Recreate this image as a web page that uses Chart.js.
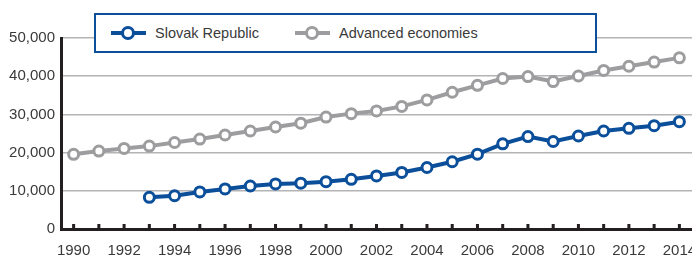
<!DOCTYPE html>
<html>
<head>
<meta charset="utf-8">
<script src="https://cdn.jsdelivr.net/npm/chart.js@4"></script>
<style>
  html, body { margin: 0; padding: 0; background: #fff; }
  #wrap { position: relative; width: 692px; height: 258px; }
  #legend {
    position: absolute; left: 94px; top: 13px; width: 499px; height: 36px;
    border: 2px solid #0b4f9b; background: #fff;
    font-family: "Liberation Sans", Arial, sans-serif;
    font-size: 14.5px; color: #3a3a3a;
  }
  .item { position: absolute; top: 0; height: 36px; line-height: 36px; white-space: nowrap; }
  .swatch { position: absolute; top: 16px; width: 35px; height: 4px; }
  .dot { position: absolute; top: -5px; left: 10px; width: 8px; height: 8px; border-radius: 50%; border: 3px solid; background: #fff; }
  .label { position: absolute; left: 44px; top: 0; }
</style>
</head>
<body>
<div id="wrap">
  <canvas id="chart" width="692" height="258"></canvas>
  <div id="legend"></div>
</div>
<script>
const years = [];
for (let y = 1990; y <= 2014; y++) years.push(String(y));

const seriesNames = ['Slovak Republic', 'Advanced economies'];
const seriesColors = ['#0b4f9b', '#9d9d9f'];

const slovak = [null, null, null, 8300, 8700, 9700, 10500, 11250, 11800, 12000,
  12400, 13000, 13900, 14800, 16100, 17600, 19600, 22300, 24200, 22900,
  24350, 25650, 26350, 27050, 28100];
const advanced = [19550, 20400, 21100, 21700, 22650, 23550, 24600, 25650, 26700, 27700,
  29300, 30200, 30900, 32100, 33800, 35800, 37600, 39400, 39900, 38600,
  40050, 41500, 42600, 43700, 44800];

const yTicks = [0, 10000, 20000, 30000, 40000, 50000];

const fontFamily = '"Liberation Sans", Arial, sans-serif';

// petits traits vers le haut sur l'axe des x
const innerTicks = {
  id: 'innerTicks',
  afterDraw(chart) {
    const x = chart.scales.x;
    const ctx = chart.ctx;
    const bottom = chart.chartArea.bottom;
    ctx.save();
    ctx.strokeStyle = '#231f20';
    ctx.lineWidth = 3;
    ctx.beginPath();
    for (let i = 0; i < years.length; i++) {
      const px = x.getPixelForTick(i);
      ctx.moveTo(px, bottom - 5);
      ctx.lineTo(px, bottom);
    }
    ctx.stroke();
    ctx.restore();
  }
};

function makeDataset(i, data) {
  return {
    label: seriesNames[i],
    data: data,
    borderColor: seriesColors[i],
    backgroundColor: '#fff',
    borderWidth: 4,
    pointRadius: 5,
    pointBorderWidth: 3,
    pointBackgroundColor: '#fff',
    pointBorderColor: seriesColors[i],
    tension: 0,
    spanGaps: false,
    clip: false
  };
}

new Chart(document.getElementById('chart'), {
  type: 'line',
  data: {
    labels: years,
    datasets: [makeDataset(0, slovak), makeDataset(1, advanced)]
  },
  options: {
    responsive: false,
    animation: false,
    layout: { autoPadding: false, padding: { top: 38, right: 0, left: 0, bottom: 0 } },
    plugins: { legend: { display: false }, tooltip: { enabled: false } },
    scales: {
      x: {
        offset: true,
        grid: { display: true, drawOnChartArea: false, drawTicks: false },
        border: { display: true, color: '#231f20', width: 3 },
        ticks: {
          autoSkip: false,
          maxRotation: 0,
          padding: 13,
          color: '#3a3a3a',
          font: { family: fontFamily, size: 15 },
          callback: function(v, i) { return i % 2 === 0 ? years[i] : ''; }
        },
        afterFit: function(s) { s.height = 29; s.paddingRight = 0; s.paddingLeft = 0; }
      },
      y: {
        min: yTicks[0],
        max: yTicks[yTicks.length - 1],
        afterBuildTicks: function(s) { s.ticks = yTicks.map(v => ({ value: v })); },
        grid: { color: '#b4b4b6', lineWidth: 1.5, drawTicks: false },
        border: { display: true, color: '#231f20', width: 3 },
        ticks: {
          padding: 6,
          color: '#3a3a3a',
          font: { family: fontFamily, size: 15 },
          callback: v => v.toLocaleString('en-US')
        },
        afterFit: function(s) { s.width = 61; }
      }
    }
  },
  plugins: [innerTicks]
});

// légende HTML
const legend = document.getElementById('legend');
const legendX = [15, 199];
seriesNames.forEach((name, i) => {
  const item = document.createElement('div');
  item.className = 'item';
  item.style.left = legendX[i] + 'px';
  item.innerHTML = '<div class="swatch" style="background:' + seriesColors[i] + '">' +
    '<div class="dot" style="border-color:' + seriesColors[i] + '"></div></div>' +
    '<span class="label">' + name + '</span>';
  legend.appendChild(item);
});
</script>
</body>
</html>
